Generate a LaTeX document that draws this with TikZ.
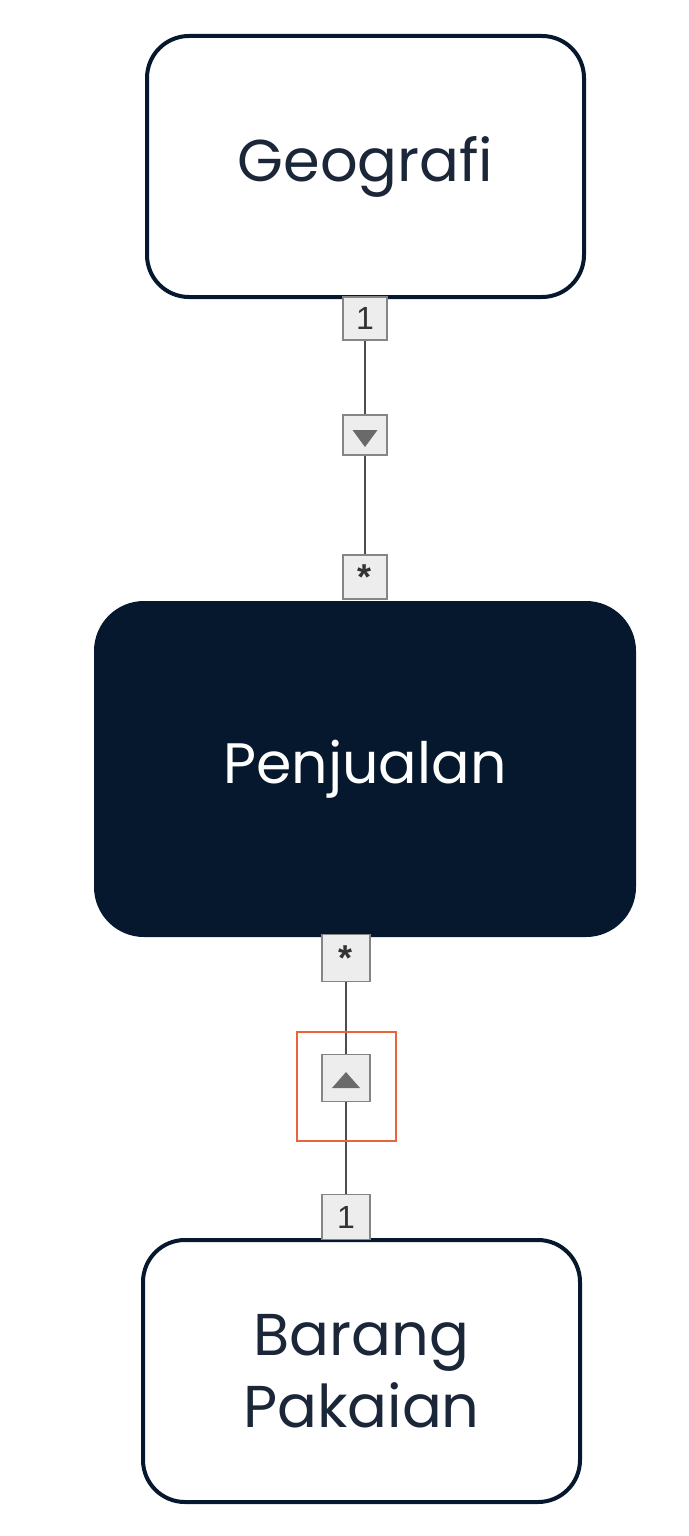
\documentclass[tikz,border=0pt]{standalone}
\usepackage{fontspec}
\setmainfont{Poppins}
\newfontfamily\arialfont{Liberation Sans}
\definecolor{navy}{HTML}{06182E}
\definecolor{navytext}{HTML}{1B2739}
\definecolor{mgray}{HTML}{858585}
\definecolor{mfill}{HTML}{EDEDED}
\definecolor{lgray}{HTML}{4D4D4D}
\definecolor{trigray}{HTML}{6A6A6A}
\definecolor{orng}{HTML}{E8643A}
\tikzset{
  entity/.style={draw=navy, line width=4pt, rounded corners=42pt, fill=white,
    text=navytext, font=\fontsize{59}{72}\selectfont, align=center, inner sep=0pt},
  mainentity/.style={entity, fill=navy, text=white, rounded corners=48pt,
    font=\fontsize{57}{70}\selectfont},
  multbox/.style={draw=mgray, fill=mfill, line width=1.6pt, inner sep=0pt,
    font=\arialfont\fontsize{32}{32}\selectfont, text=black!80},
  conn/.style={draw=lgray, line width=2.6pt},
}
\begin{document}
\begin{tikzpicture}[x=1pt,y=-1pt]
\useasboundingbox (0,0) rectangle (688,1536);
% main entities
\node[entity, minimum width=437pt, minimum height=261pt] (geo) at (365.5,166.5) {\raisebox{-4pt}{Geografi}};
\node[mainentity, minimum width=538pt, minimum height=332pt] (penj) at (365,769) {\raisebox{-4pt}{Penjualan}};
\node[entity, minimum width=437pt, minimum height=262pt] (bar) at (361.5,1371) {Barang\\Pakaian};
% top connector
\node[multbox, minimum width=44pt, minimum height=43pt] (one1) at (365,318.5) {1};
\node[multbox, minimum width=44pt, minimum height=40pt] (tri1) at (365,435) {};
\node[multbox, minimum width=44pt, minimum height=44pt] (star1) at (365,577) {\raisebox{-9pt}{\fontsize{36}{36}\selectfont\bfseries *}};
\draw[conn] (one1.south) -- (tri1.north);
\draw[conn] (tri1.south) -- (star1.north);
\fill[trigray] ([shift={(-12.5pt,5pt)}]tri1.center) -- ([shift={(12.5pt,5pt)}]tri1.center) -- ([shift={(0pt,-12pt)}]tri1.center) -- cycle;
% bottom connector
\node[multbox, minimum width=48pt, minimum height=47pt] (star2) at (346,958) {\raisebox{-9pt}{\fontsize{36}{36}\selectfont\bfseries *}};
\node[multbox, minimum width=48pt, minimum height=47pt] (tri2) at (346,1078) {};
\node[multbox, minimum width=48pt, minimum height=45pt] (one2) at (346,1217) {1};
\draw[conn] (star2.south) -- (tri2.north);
\draw[conn] (tri2.south) -- (one2.north);
\fill[trigray] ([shift={(-14pt,-10pt)}]tri2.center) -- ([shift={(14pt,-10pt)}]tri2.center) -- ([shift={(0pt,6pt)}]tri2.center) -- cycle;
\node[draw=orng, line width=2.5pt, minimum width=99pt, minimum height=109pt, inner sep=0pt] (sel) at (346.5,1086.5) {};
\end{tikzpicture}
\end{document}
